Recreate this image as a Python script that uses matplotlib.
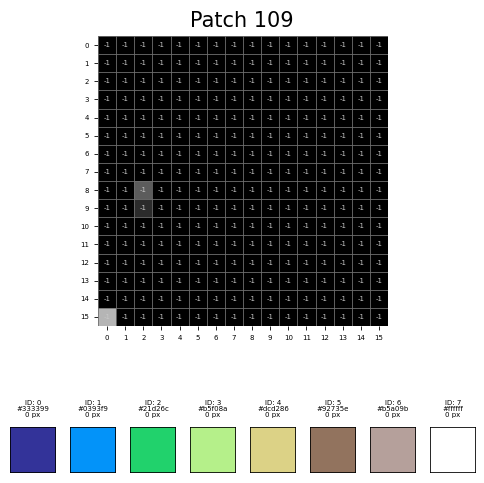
import numpy as np
import matplotlib
matplotlib.use('Agg')
import matplotlib.pyplot as plt

plt.rcParams['font.family'] = 'DejaVu Sans'

# パッチの輝度 (ほぼ黒、数セルだけ明るい)
patch_size = 16
bright_rows = [8, 9, 15]
bright_cols = [2, 2, 0]
bright_vals = [0.36, 0.17, 0.71]

# 各セルのラベル (全て -1)
cell_labels = np.full((patch_size, patch_size), -1)

# パレット
palette_ids = [0, 1, 2, 3, 4, 5, 6, 7]
palette_hex = ['#333399', '#0393f9', '#21d26c', '#b5f08a',
               '#dcd286', '#92735e', '#b5a09b', '#ffffff']
palette_px = [0, 0, 0, 0, 0, 0, 0, 0]

patch = np.zeros((patch_size, patch_size))
for r, c, v in zip(bright_rows, bright_cols, bright_vals):
    patch[r, c] = v

fig = plt.figure(figsize=(4.84, 4.83), dpi=100)
fig.suptitle('Patch 109', fontsize=15, y=0.978)

ax = fig.add_axes([98 / 484, 157 / 483, 290 / 484, 290 / 483])
ax.imshow(patch, cmap='gray', vmin=0, vmax=1, interpolation='nearest', aspect='auto')

# グリッド線
for k in range(patch_size + 1):
    ax.axhline(k - 0.5, color='#707070', linewidth=0.6)
    ax.axvline(k - 0.5, color='#707070', linewidth=0.6)

for i in range(patch_size):
    for j in range(patch_size):
        ax.text(j, i, str(cell_labels[i, j]), ha='center', va='center',
                fontsize=5, color='#c8c8c8')

ax.set_xticks(range(patch_size))
ax.set_yticks(range(patch_size))
ax.tick_params(labelsize=5, length=3, width=0.6)
ax.set_xlim(-0.5, patch_size - 0.5)
ax.set_ylim(patch_size - 0.5, -0.5)
for s in ax.spines.values():
    s.set_visible(False)

# パレット表示
for k, (pid, hx, px) in enumerate(zip(palette_ids, palette_hex, palette_px)):
    sax = fig.add_axes([(10 + 60 * k) / 484, 10 / 483, 46 / 484, 46 / 483])
    sax.add_patch(plt.Rectangle((0, 0), 1, 1, facecolor=hx, edgecolor='black', linewidth=1.2))
    sax.set_xlim(0, 1)
    sax.set_ylim(0, 1)
    sax.axis('off')
    sax.set_title(f'ID: {pid}\n{hx}\n{px} px', fontsize=5, pad=7, linespacing=1.0)

plt.savefig('out.png', dpi=100)
